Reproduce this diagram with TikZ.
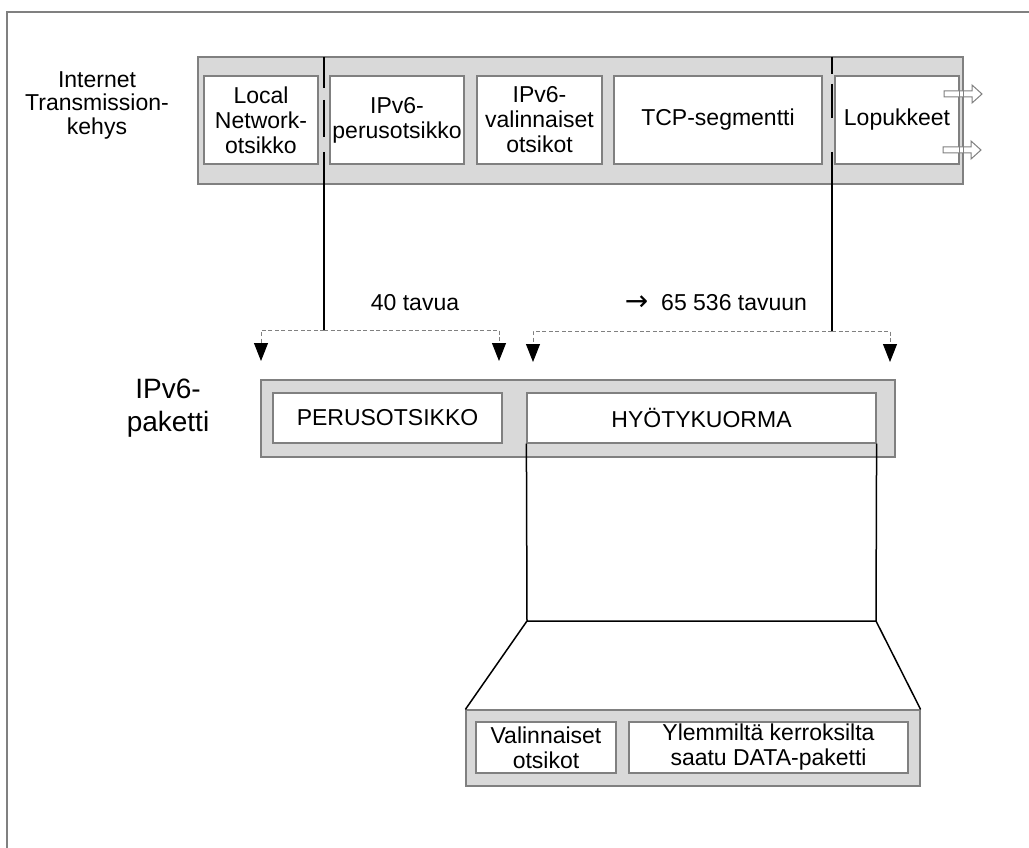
\documentclass[tikz,border=0pt]{standalone}
\usepackage{fontspec}
\setmainfont{Liberation Sans}
\newfontfamily\arrowfont{DejaVu Sans}
\usetikzlibrary{arrows.meta}
\definecolor{barfill}{HTML}{D9D9D9}
\definecolor{edgegray}{HTML}{808080}
\begin{document}
\begin{tikzpicture}[x=1pt,y=-1pt,
  bar/.style={draw=edgegray, fill=barfill, line width=1.2pt, inner sep=0pt, rectangle},
  cell/.style={draw=edgegray, fill=white, line width=1.2pt, inner sep=0pt, rectangle, align=center, font=\fontsize{23}{25}\selectfont},
  lbl/.style={align=center, inner sep=0pt, font=\fontsize{23}{23.5}\selectfont},
  bigl/.style={align=center, inner sep=0pt, font=\fontsize{28}{33}\selectfont},
  blk/.style={draw=black, line width=1.5pt},
  dash line/.style={draw=edgegray, line width=0.9pt, dash pattern=on 4pt off 2.5pt, -{Triangle[color=black, width=14pt, length=18pt]}},
  hollow/.style={draw=edgegray, fill=white, line width=1pt, line join=miter}
]
\useasboundingbox (0,0) rectangle (1029,848);
\fill[white] (0,0) rectangle (1029,848);
% outer frame (top and left edges)
\draw[edgegray, line width=1.2pt] (7,848) -- (7,12) -- (1029,12);

% top frame
\node[bar, minimum width=765pt, minimum height=127pt] (topbar) at (580.5,120.5) {};
\node[cell, minimum width=114pt, minimum height=88pt] (local) at (261,120) {Local\\Network-\\otsikko};
\node[cell, minimum width=134pt, minimum height=88pt] (perus) at (397,120) {IPv6-\\perusotsikko};
\node[cell, minimum width=125pt, minimum height=88pt] (valin) at (539.5,120) {IPv6-\\valinnaiset\\otsikot};
\node[cell, minimum width=208pt, minimum height=88pt] (tcp) at (718,120) {TCP-segmentti};
\node[cell, minimum width=124pt, minimum height=88pt] (lopu) at (897,120) {Lopukkeet};
\node[lbl] (itk) at (97,105) {Internet\\Transmission-\\kehys};

% hollow arrows on trailer
\draw[hollow] (944,91) -- (972,91) -- (972,85) -- (982,94) -- (972,103) -- (972,97) -- (944,97) -- cycle;
\draw[hollow] (943,147) -- (971,147) -- (971,141) -- (981,150) -- (971,159) -- (971,153) -- (943,153) -- cycle;
\draw[edgegray, line width=1.2pt] (lopu.north east) -- (lopu.south east);
\draw[edgegray, line width=1.2pt] (topbar.north east) -- (topbar.south east);

% vertical split lines
\coordinate (s1) at (324,57);
\coordinate (j1) at (324,330);
\coordinate (s2) at (832,57);
\coordinate (j2) at (832,331);
\draw[blk] (s1) -- (324,88);
\draw[blk] (324,100) -- (324,137);
\draw[blk] (324,152) -- (j1);
\draw[blk] (s2) -- (832,74);
\draw[blk] (832,84) -- (832,118);
\draw[blk] (832,152) -- (j2);

% dashed arrows
\coordinate (a1) at (261,361);
\coordinate (a2) at (499,361);
\coordinate (a3) at (533,362);
\coordinate (a4) at (890,362);
\draw[dash line] (j1) -| (a1);
\draw[dash line] (j1) -| (a2);
\draw[dash line] (j2) -| (a3);
\draw[dash line] (j2) -| (a4);

\node[lbl] (t40) at (415,303) {40 tavua};
\node[lbl] (t65) at (716,303) {{\arrowfont\fontsize{28}{28}\selectfont →}\ \ 65 536 tavuun};

% IPv6 packet
\node[bigl] (pak) at (168,408) {IPv6-\\paketti};
\node[bar, minimum width=634pt, minimum height=77pt] (pbar) at (578,418.5) {};
\node[cell, minimum width=229pt, minimum height=50pt] (po) at (387.5,418) {PERUSOTSIKKO};
\node[cell, minimum width=349pt, minimum height=50pt] (hk) at (701.5,418) {HYÖTYKUORMA};

% bottom payload
\node[bar, minimum width=454pt, minimum height=76pt] (bbar) at (693,748) {};
\node[cell, minimum width=140pt, minimum height=51pt] (vo) at (546,747.5) {Valinnaiset\\otsikot};
\node[cell, minimum width=279pt, minimum height=51pt] (yk) at (768.5,747.5) {Ylemmiltä kerroksilta\\saatu DATA-paketti};

% expansion lines
\coordinate (c1) at (527,621);
\coordinate (c2) at (876,621);
\draw[blk, line join=miter] (hk.south west) -- (c1) -- (c2) -- (hk.south east);
\draw[blk] (c1) -- (bbar.north west);
\draw[blk] (c2) -- (bbar.north east);
\end{tikzpicture}
\end{document}
